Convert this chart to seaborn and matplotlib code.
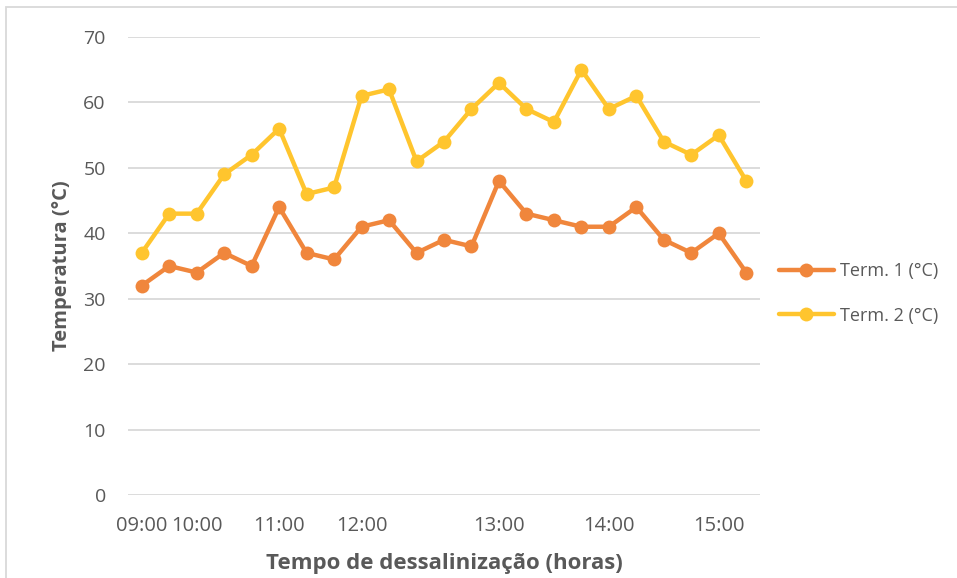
import numpy as np
import matplotlib.pyplot as plt
import pandas as pd
import seaborn as sns
from matplotlib.patches import Rectangle

# Data (23 readings, category axis)
term1 = [32, 35, 34, 37, 35, 44, 37, 36, 41, 42, 37, 39,
         38, 48, 43, 42, 41, 41, 44, 39, 37, 40, 34]
term2 = [37, 43, 43, 49, 52, 56, 46, 47, 61, 62, 51, 54,
         59, 63, 59, 57, 65, 59, 61, 54, 52, 55, 48]
tick_pos = [0, 2, 5, 8, 13, 17, 21]
tick_labels = ["09:00", "10:00", "11:00", "12:00", "13:00", "14:00", "15:00"]
series_names = ["Term. 1 (°C)", "Term. 2 (°C)"]
colors = ["#F0863C", "#FFC52E"]

df = pd.DataFrame({"idx": np.arange(len(term1)),
                   series_names[0]: term1,
                   series_names[1]: term2})
long_df = df.melt(id_vars="idx", var_name="serie", value_name="temp")

sns.set_theme(style="white")
plt.rcParams['font.family'] = ['Open Sans', 'DejaVu Sans']
text_col = "#595959"

fig = plt.figure(figsize=(9.57, 5.78), dpi=100)
ax = fig.add_axes([128 / 957, 1 - 495 / 578, (760 - 128) / 957, (495 - 37) / 578])

sns.lineplot(data=long_df, x="idx", y="temp", hue="serie",
             palette=colors, marker="o", markersize=10, markeredgewidth=0,
             linewidth=3.2, ax=ax)

ax.set_xlim(-0.5, len(term1) - 0.5)
ax.set_ylim(0, 70)
ax.set_yticks(range(0, 71, 10))
ax.set_xticks(tick_pos)
ax.set_xticklabels(tick_labels)
ax.tick_params(axis='both', colors=text_col, labelsize=14, length=0)
ax.tick_params(axis='x', pad=15, labelsize=14.5)
ax.tick_params(axis='y', pad=16)
ax.grid(axis='y', color="#D9D9D9", linewidth=1.3)
ax.set_axisbelow(True)
for s in ax.spines.values():
    s.set_visible(False)

ax.set_xlabel("Tempo de dessalinização (horas)", fontsize=16, fontweight='bold',
              color=text_col, labelpad=12)
ax.set_ylabel("Temperatura (°C)", fontsize=14.5, fontweight='bold',
              color=text_col, labelpad=8)

leg = ax.legend(loc='center left', bbox_to_anchor=(1.005, 0.44), frameon=False,
                fontsize=13, handlelength=3.0, labelspacing=1.45, handletextpad=0.35)
for t in leg.get_texts():
    t.set_color(text_col)

# light chart border (left/top visible in the reference)
fig.patches.append(Rectangle((6 / 957, -0.5), 2, 1.5 - 7 / 578,
                             transform=fig.transFigure, fill=False,
                             edgecolor="#D9D9D9", linewidth=1.3))

fig.savefig("out.png", dpi=100)
